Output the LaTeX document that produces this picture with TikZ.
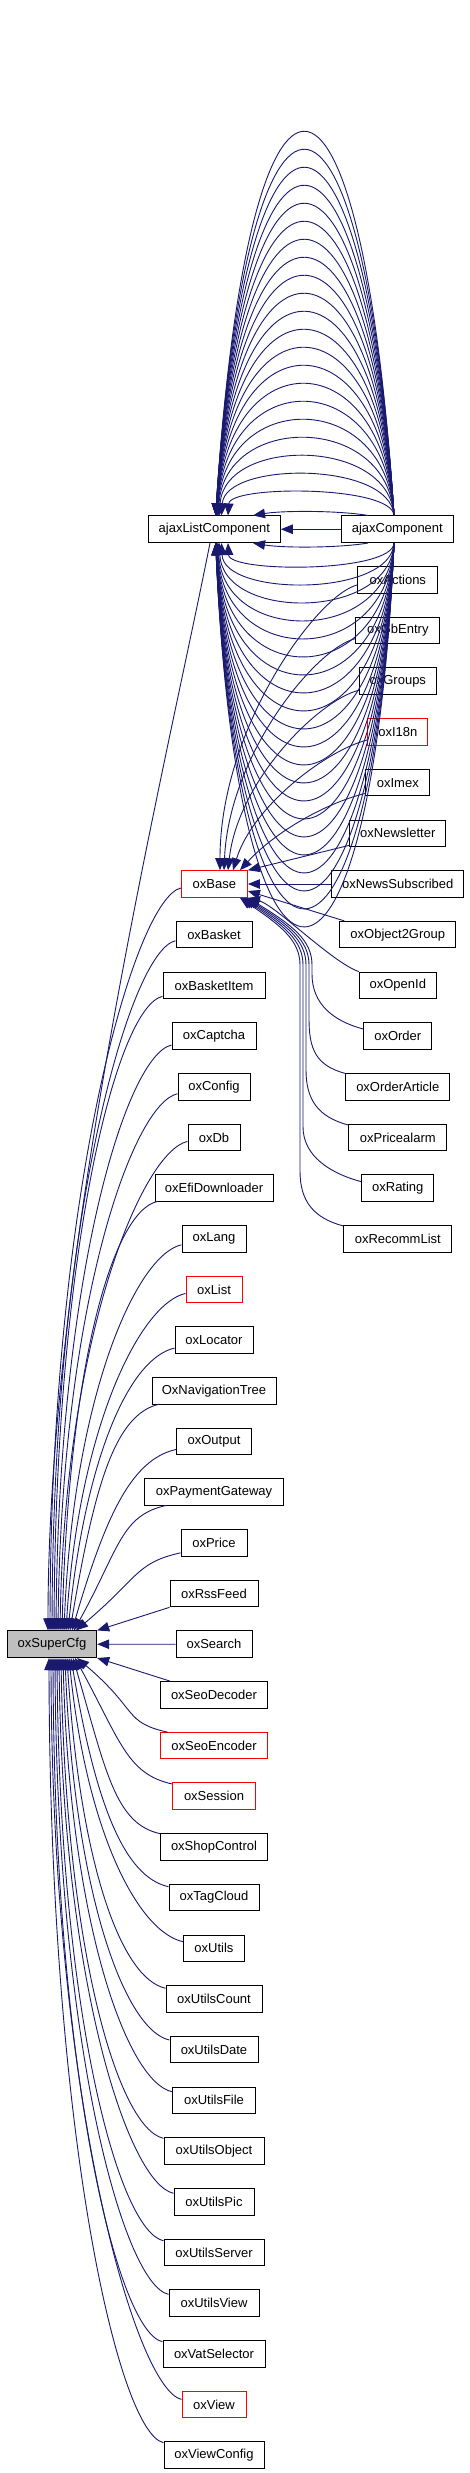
\documentclass[tikz,border=0pt]{standalone}
\usepackage{fontspec}
\setmainfont{Liberation Sans}
\usetikzlibrary{arrows.meta}
\definecolor{edgec}{HTML}{191970}
\definecolor{nodegray}{HTML}{BFBFBF}
\begin{document}
\begin{tikzpicture}[x=1pt,y=-1pt,
  cls/.style={draw=black, line width=1pt, fill=white, rectangle, inner sep=0pt,
    minimum height=26.6pt, font=\fontsize{13}{15}\selectfont, text=black},
  redcls/.style={cls, draw=red},
  graycls/.style={cls, fill=nodegray},
  edge/.style={draw=edgec, line width=0.9pt, -{Triangle[length=12pt,width=9.5pt]}}]
\useasboundingbox (0,0) rectangle (469,2473);
\fill[white] (0,0) rectangle (469,2473);

% ---------- nodes ----------
\node[cls, minimum width=132pt] (ajaxL) at (214.3,529.24) {ajaxListComponent};
\node[cls, minimum width=112pt] (ajaxC) at (397.3,529.24) {ajaxComponent};
\node[redcls, minimum width=66pt] (oxBase) at (214.4,884) {oxBase};
\node[graycls, minimum width=89.4pt] (oxSuperCfg) at (52,1644.2) {oxSuperCfg};

\foreach \n/\w/\r/\s in {oxBasket/76/1/cls, oxBasketItem/102/2/cls, oxCaptcha/84/3/cls,
  oxConfig/72/4/cls, oxDb/52/5/cls, oxEfiDownloader/118/6/cls, oxLang/64/7/cls,
  oxList/56/8/redcls, oxLocator/78/9/cls, OxNavigationTree/124/10/cls, oxOutput/75/11/cls,
  oxPaymentGateway/139/12/cls, oxPrice/66/13/cls, oxRssFeed/88/14/cls, oxSearch/76/15/cls,
  oxSeoDecoder/107/16/cls, oxSeoEncoder/107/17/redcls, oxSession/83/18/redcls,
  oxShopControl/107/19/cls, oxTagCloud/90/20/cls, oxUtils/61/21/cls, oxUtilsCount/96/22/cls,
  oxUtilsDate/88/23/cls, oxUtilsFile/83/24/cls, oxUtilsObject/100/25/cls, oxUtilsPic/80/26/cls,
  oxUtilsServer/100/27/cls, oxUtilsView/90/28/cls, oxVatSelector/102/29/cls,
  oxView/64/30/redcls, oxViewConfig/100/31/cls}
  \node[\s, minimum width=\w pt] (\n) at (214,{884+50.68*\r}) {\n};

\foreach \n/\w/\r/\s in {oxActions/80/-6/cls, oxGbEntry/84/-5/cls, oxGroups/77/-4/cls,
  oxI18n/60/-3/redcls, oxImex/64/-2/cls, oxNewsletter/96/-1/cls, oxNewsSubscribed/132/0/cls,
  oxObject2Group/116/1/cls, oxOpenId/77/2/cls, oxOrder/68/3/cls, oxOrderArticle/104/4/cls,
  oxPricealarm/98/5/cls, oxRating/72/6/cls, oxRecommList/108/7/cls}
  \node[\s, minimum width=\w pt] (\n) at (397.8,{884+50.68*\r}) {\n};

% ---------- ajaxComponent -> ajaxListComponent (multi edges) ----------
\draw[edge] ([xshift=-29.3pt]ajaxC.north) .. controls +(-30,-5) and +(30,-5) .. ([xshift=38.7pt]ajaxL.north);
\draw[edge] ([xshift=-29.3pt]ajaxC.south) .. controls +(-30,5) and +(30,5) .. ([xshift=38.7pt]ajaxL.south);
\foreach \k in {1,...,21} {
  \pgfmathsetmacro\myh{(4.7+18*\k)/0.75}
  \pgfmathsetmacro\myhb{(4.4+18*\k)/0.75}
  \pgfmathsetmacro\myel{0.065*\myh}
  \pgfmathsetmacro\myeb{0.045*\myhb}
  \pgfmathsetmacro\myxl{0.7+13/\k}
  \draw[edge] ([xshift=-3.3pt]ajaxC.north) .. controls +(-\myel,-\myh) and +(\myel,-\myh) .. ([xshift=\myxl pt]ajaxL.north);
  \draw[edge] ([xshift=-3.3pt]ajaxC.south) .. controls +(-\myeb,\myhb) and +(\myeb,\myhb) .. ([xshift=\myxl pt]ajaxL.south);
}
\draw[edge] (ajaxC.west) -- (ajaxL.east);

% ---------- ajaxListComponent -> oxSuperCfg ----------
\draw[edge] ([xshift=-4.3pt]ajaxL.south) .. controls (165,770) and (48,1250) .. ([xshift=-4pt]oxSuperCfg.north);

% ---------- left column (upper) -> oxSuperCfg ----------
\foreach \n/\r/\xs/\ys in {oxBase/0/0/4, oxBasket/1/0/6, oxBasketItem/2/0/11, oxCaptcha/3/0/9,
  oxConfig/4/0/7, oxDb/5/0/4, oxEfiDownloader/6/3/13.3, oxLang/7/0/6, oxList/8/0/4,
  oxLocator/9/0/8, OxNavigationTree/10/8/13.3, oxOutput/11/0/8, oxPaymentGateway/12/22/13.3,
  oxPrice/13/0/10} {
  \pgfmathsetmacro\myxe{50+2*\r}
  \pgfmathsetmacro\myyr{884+50.68*\r}
  \pgfmathsetmacro\myyc{1630.7-0.6*(1630.7-\myyr)}
  \pgfmathsetmacro\myfa{0.6*exp(-((15-\r)-2)/3)}
  \pgfmathsetmacro\myxc{\myxe+\myfa*(180-\myxe)}
  \pgfmathsetmacro\mysh{\myxe-52}
  \draw[edge] ([xshift=\xs pt,yshift=-\ys pt]\n.west) .. controls +(-45,10) and (\myxc,\myyc) .. ([xshift=\mysh pt]oxSuperCfg.north);
}
\draw[edge] (oxRssFeed.south west) -- (oxSuperCfg.north east);
\draw[edge] (oxSearch.west) -- (oxSuperCfg.east);
\draw[edge] ([xshift=10pt]oxSeoDecoder.north west) -- (oxSuperCfg.south east);

% ---------- left column (lower) -> oxSuperCfg ----------
\foreach \n/\r/\xs/\ys in {oxSeoEncoder/17/8/13.3, oxSession/18/0/12.3, oxShopControl/19/0/13.3,
  oxTagCloud/20/0/10.9, oxUtils/21/0/6.6, oxUtilsCount/22/0/10.7, oxUtilsDate/23/0/9.6,
  oxUtilsFile/24/0/8.6, oxUtilsObject/25/0/12.7, oxUtilsPic/26/0/8.4, oxUtilsServer/27/0/11.6,
  oxUtilsView/28/0/8.7, oxVatSelector/29/0/12, oxView/30/0/5, oxViewConfig/31/0/12.4} {
  \pgfmathsetmacro\myxe{77-2*(\r-17)}
  \pgfmathsetmacro\myyr{884+50.68*\r}
  \pgfmathsetmacro\myyc{1657.3+0.6*(\myyr-1657.3)}
  \pgfmathsetmacro\myfa{0.6*exp(-((\r-15)-2)/3)}
  \pgfmathsetmacro\myxc{\myxe+\myfa*(180-\myxe)}
  \pgfmathsetmacro\mysh{\myxe-52}
  \draw[edge] ([xshift=\xs pt,yshift=\ys pt]\n.west) .. controls +(-45,-10) and (\myxc,\myyc) .. ([xshift=\mysh pt]oxSuperCfg.south);
}

% ---------- right column (upper) -> oxBase ----------
\foreach \n/\r/\xe/\ys/\of in {oxActions/-6/220/5/0, oxGbEntry/-5/224/8/5, oxGroups/-4/228/9/10,
  oxI18n/-3/233/8/20, oxImex/-2/240/10.7/35} {
  \pgfmathsetmacro\myyr{884+50.68*\r+\ys}
  \pgfmathsetmacro\myyc{870.7-0.5*(870.7-\myyr)}
  \pgfmathsetmacro\myxc{\xe+\of}
  \pgfmathsetmacro\mysh{\xe-214.4}
  \draw[edge] ([yshift=-\ys pt]\n.west) .. controls +(-40,10) and (\myxc,\myyc) .. ([xshift=\mysh pt]oxBase.north);
}
\draw[edge] ([yshift=-12pt]oxNewsletter.west) -- (oxBase.north east);
\draw[edge] (oxNewsSubscribed.west) -- (oxBase.east);

% ---------- right column (lower) -> oxBase ----------
\draw[edge] ([xshift=5pt]oxObject2Group.north west) -- ([yshift=-7pt]oxBase.east);
\draw[edge] (oxOpenId.north west) .. controls (333,963) and (275,905) .. (oxBase.south east);
\foreach \n/\r/\xb/\tx/\ys in {oxOrder/3/312/0/7, oxOrderArticle/4/309/-2/13.3,
  oxPricealarm/5/306/-4/12.4, oxRating/6/303/-6/6.4, oxRecommList/7/300/-8/12.8} {
  \pgfmathsetmacro\myy{884+50.68*\r-\ys}
  \pgfmathsetmacro\myya{\myy-25}
  \pgfmathsetmacro\myyb{\myy-55}
  \pgfmathsetmacro\myxd{\xb-20}
  \draw[edge] ([yshift=\ys pt]\n.west) .. controls +(-30,-8) and (\xb,\myya) .. (\xb,\myyb)
     -- (\xb,965) .. controls (\xb,940) and (\myxd,925) .. ([xshift=\tx pt]oxBase.south east);
}
\end{tikzpicture}
\end{document}
